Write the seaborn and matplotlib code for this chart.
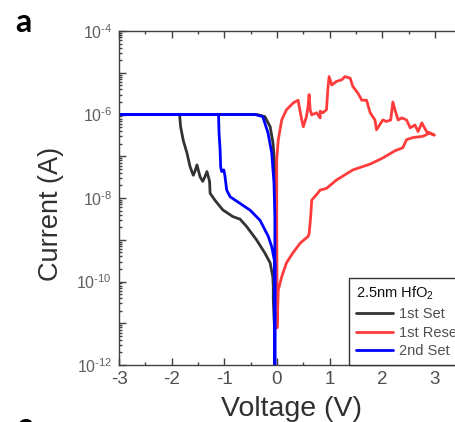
import numpy as np
import pandas as pd
import matplotlib
matplotlib.use("Agg")
import matplotlib.pyplot as plt
import seaborn as sns
from matplotlib.ticker import LogLocator, MultipleLocator, FuncFormatter, NullFormatter

# ---------------- data ----------------
# 1st Set sweep (0 -> -3 V -> 0), current in A
set1_voltage = [-0.05, -0.07, -0.07, -0.08, -0.13, -0.23, -0.39, -0.58, -0.70, -0.84,
                -1.03, -1.18, -1.27, -1.28, -1.33, -1.37, -1.41, -1.46, -1.52, -1.56,
                -1.59, -1.65, -1.71, -1.78, -1.83, -1.85, -3.00, -0.38, -0.23, -0.13,
                -0.076, -0.04, -0.02, -0.02, -0.03, -0.03, -0.04]
set1_current = [9e-12, 3.6e-11, 7.6e-11, 1.3e-10, 2.8e-10, 4.8e-10, 1.0e-9, 2.1e-9, 3.1e-9, 3.6e-9,
                5.2e-9, 8.9e-9, 1.3e-8, 2.5e-8, 4.3e-8, 3.2e-8, 2.5e-8, 3.2e-8, 6.2e-8, 4.3e-8,
                3.5e-8, 5.6e-8, 1.2e-7, 2.4e-7, 5.1e-7, 1.0e-6, 1.0e-6, 1.0e-6, 8.9e-7, 5.1e-7,
                2.1e-7, 5.6e-8, 1.9e-8, 8.9e-9, 5.6e-10, 3.6e-11, 9e-12]

# 1st Reset sweep (0 -> 3 V -> 0)
reset1_voltage = [0.0, 0.025, 0.09, 0.18, 0.30, 0.44, 0.59, 0.61, 0.63, 0.64,
                  0.66, 0.75, 0.82, 0.94, 1.13, 1.44, 1.77, 2.01, 2.24, 2.39,
                  2.46, 2.58, 2.77, 2.90, 2.99,
                  2.84, 2.75, 2.68, 2.62, 2.53, 2.46, 2.37, 2.30, 2.24, 2.20,
                  2.16, 2.08, 2.01, 1.89, 1.86, 1.77, 1.70, 1.61, 1.54, 1.44,
                  1.39, 1.29, 1.23, 1.13, 1.04, 0.99, 0.97, 0.94, 0.87, 0.82,
                  0.82, 0.75, 0.66, 0.63, 0.61, 0.59, 0.56, 0.50, 0.47, 0.40,
                  0.31, 0.18, 0.09, 0.025, -0.005, -0.005, 0.0, 0.0]
reset1_current = [7.8e-12, 6.3e-11, 1.3e-10, 2.8e-10, 4.8e-10, 8.3e-10, 1.2e-9, 1.4e-9, 2.5e-9, 3.6e-9,
                  8.9e-9, 1.2e-8, 1.55e-8, 1.7e-8, 2.7e-8, 4.7e-8, 6.5e-8, 9.1e-8, 1.35e-7, 1.6e-7,
                  2.5e-7, 2.8e-7, 3.0e-7, 3.6e-7, 3.2e-7,
                  3.9e-7, 6.3e-7, 3.9e-7, 5.6e-7, 4.8e-7, 7.4e-7, 8.3e-7, 7.4e-7, 1.3e-6, 2.0e-6,
                  7.4e-7, 6.8e-7, 7.4e-7, 4.3e-7, 7.4e-7, 1.1e-6, 2.2e-6, 2.2e-6, 3.2e-6, 4.7e-6,
                  7.4e-6, 8.1e-6, 6.8e-6, 6.2e-6, 5.1e-6, 8.1e-6, 4.7e-6, 1.3e-6, 1.1e-6, 1.2e-6,
                  8.3e-7, 1.1e-6, 9.8e-7, 1.3e-6, 3.0e-6, 1.55e-6, 8.9e-7, 5.1e-7, 7.4e-7, 2.2e-6,
                  1.9e-6, 1.3e-6, 7.4e-7, 2.5e-7, 8.1e-8, 2.9e-9, 1.1e-10, 7.8e-12]

# 2nd Set sweep (0 -> -3 V -> 0)
set2_voltage = [-0.04, -0.04, -0.10, -0.165, -0.32, -0.51, -0.70, -0.89, -0.955, -0.99,
                -1.01, -1.05, -1.07, -1.08, -1.10, -1.11, -3.00, -0.42, -0.27, -0.17,
                -0.10, -0.057, -0.04, -0.04]
set2_current = [5e-13, 2.8e-10, 6.8e-10, 1.2e-9, 2.9e-9, 5.1e-9, 7.4e-9, 1.07e-8, 1.55e-8, 3.5e-8,
                4.7e-8, 4.3e-8, 5.6e-8, 1.4e-7, 3.5e-7, 1.0e-6, 1.0e-6, 1.0e-6, 8.9e-7, 3.6e-7,
                1.2e-7, 2.3e-8, 3.6e-9, 5e-13]

series_labels = ["1st Set", "1st Reset", "2nd Set"]
series_colors = ["#333333", "#FF3C3C", "#0000FF"]
x_ticks = [-3, -2, -1, 0, 1, 2, 3]
legend_title = "2.5nm HfO$_2$"

# ---------------- figure ----------------
sns.set_theme(style="white")
plt.rcParams["font.family"] = ["Liberation Sans", "DejaVu Sans"]
plt.rcParams["axes.unicode_minus"] = False
plt.rcParams["mathtext.fontset"] = "custom"
plt.rcParams["mathtext.rm"] = "Liberation Sans"
plt.rcParams["mathtext.it"] = "Liberation Sans:italic"
plt.rcParams["mathtext.bf"] = "Liberation Sans:bold"

W, H = 456, 422
fig = plt.figure(figsize=(W / 100, H / 100), dpi=100)
ax = fig.add_axes([119 / W, 57 / H, 342.3 / W, 334 / H])

curves = [(set1_voltage, set1_current), (reset1_voltage, reset1_current), (set2_voltage, set2_current)]
for (v, i), lab, col in zip(curves, series_labels, series_colors):
    df = pd.DataFrame({"Voltage": v, "Current": i})
    sns.lineplot(data=df, x="Voltage", y="Current", sort=False, estimator=None,
                 color=col, lw=2.0, label=lab, ax=ax)

ax.set_yscale("log")
ax.set_xlim(-3, 3.5)
ax.set_ylim(1e-12, 1e-4)

spine_col = "#404040"
for s in ["left", "bottom", "top"]:
    ax.spines[s].set_color(spine_col)
    ax.spines[s].set_linewidth(1.0)
ax.spines["right"].set_visible(False)

ax.xaxis.set_major_locator(MultipleLocator(1))
ax.xaxis.set_minor_locator(MultipleLocator(0.5))
ax.set_xticks(x_ticks)
ax.yaxis.set_major_locator(LogLocator(base=10, numticks=20))
ax.yaxis.set_minor_locator(LogLocator(base=10, subs=np.arange(2, 10), numticks=20))


def yfmt(v, p):
    e = int(round(np.log10(v)))
    if e % 2:
        return ""
    sign = r"\text{-}" if e < 0 else ""
    return r"$10^{%s%d}$" % (sign, abs(e))


ax.yaxis.set_major_formatter(FuncFormatter(yfmt))
ax.yaxis.set_minor_formatter(NullFormatter())

ax.tick_params(which="both", direction="in", top=True, bottom=True, left=True, right=False,
               color=spine_col, width=1.0)
ax.tick_params(which="major", length=5)
ax.tick_params(which="minor", length=2.5)
ax.tick_params(axis="x", labelsize=13.5, pad=4.5, labelcolor="#505050")
ax.tick_params(axis="y", labelsize=11.5, pad=5, labelcolor="#606060")

ax.set_xlabel("Voltage (V)", fontsize=20.5, color="#303030")
ax.set_ylabel("Current (A)", fontsize=19.5, color="#303030")
ax.xaxis.set_label_coords(0.505, -0.093)
ax.yaxis.set_label_coords(-0.161, 0.452)

leg = ax.legend(title=legend_title, loc="lower left", bbox_to_anchor=(349 / W, 57 / H),
                bbox_transform=fig.transFigure, frameon=True, fancybox=False,
                edgecolor="#333333", framealpha=1, fontsize=10.5, title_fontsize=10.5,
                handlelength=2.6, handletextpad=0.4, borderpad=0.45, labelspacing=0.33,
                alignment="left", borderaxespad=0, labelcolor="#505050")
leg.get_frame().set_linewidth(1.0)
leg.get_title().set_color("#111111")

fig.text(15 / W, 1 - 8 / H, "a", ha="left", va="top", fontsize=23, fontweight="bold",
         family=["Lato", "DejaVu Sans"], color="black")
fig.text(17 / W, 10 / H, "c", ha="left", va="top", fontsize=23, fontweight="bold",
         family=["Lato", "DejaVu Sans"], color="black")

fig.savefig("out.png", dpi=100)
